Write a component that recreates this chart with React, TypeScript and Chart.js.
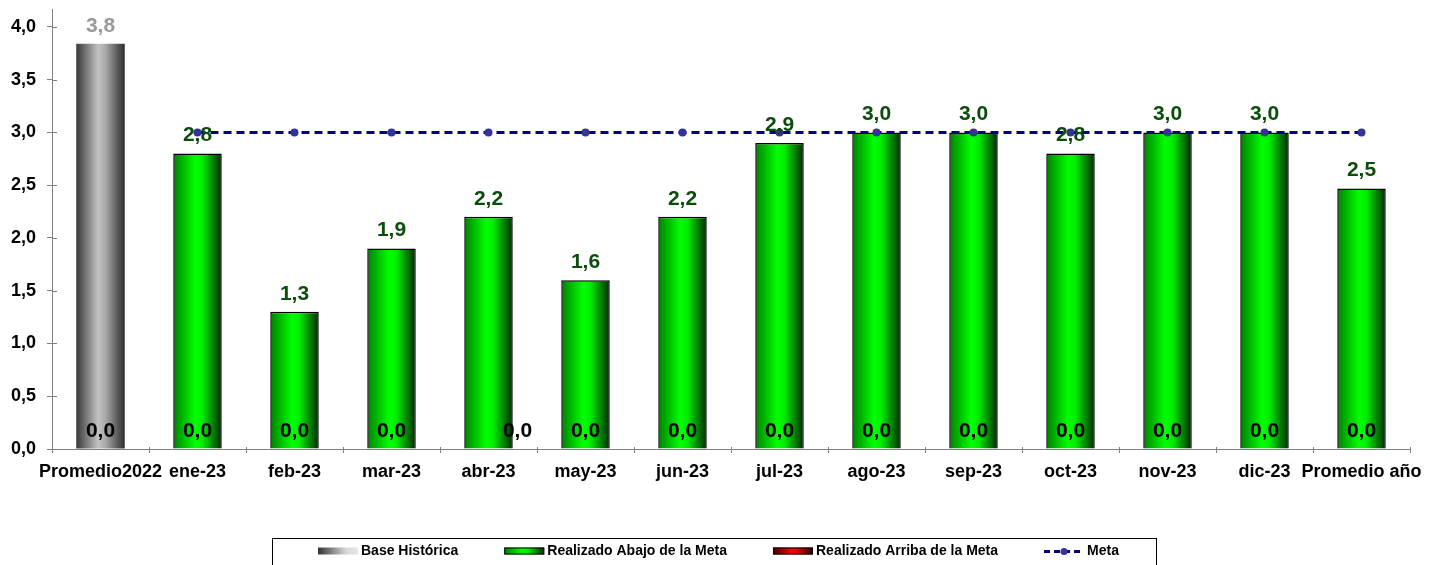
import React, { useEffect, useRef } from 'react';
import { Chart, registerables } from 'chart.js';

Chart.register(...registerables);

const categories = ['Promedio2022', 'ene-23', 'feb-23', 'mar-23', 'abr-23', 'may-23', 'jun-23', 'jul-23', 'ago-23', 'sep-23', 'oct-23', 'nov-23', 'dic-23', 'Promedio año'];
const baseHistorica = [3.84, null, null, null, null, null, null, null, null, null, null, null, null, null];
const realizadoAbajo = [null, 2.8, 1.3, 1.9, 2.2, 1.6, 2.2, 2.9, 3.0, 3.0, 2.8, 3.0, 3.0, 2.47];
const realizadoArriba = [0, 0, 0, 0, 0, 0, 0, 0, 0, 0, 0, 0, 0, 0];
const meta = [null, 3, 3, 3, 3, 3, 3, 3, 3, 3, 3, 3, 3, 3];
const yTicks = [0, 0.5, 1.0, 1.5, 2.0, 2.5, 3.0, 3.5, 4.0];
const yMax = 4.17;

const FONT = '"Liberation Sans", Arial, sans-serif';
const fmt = (v: number) => v.toFixed(1).replace('.', ',');

const gradStops: Record<string, [number, string][]> = {
  grey: [[0, '#383838'], [0.45, '#c2c2c2'], [0.6, '#aaaaaa'], [1, '#2c2c2c']],
  green: [[0, '#008000'], [0.45, '#00ff00'], [0.6, '#00ee00'], [1, '#002a00']],
  red: [[0, '#3a0000'], [0.45, '#ff0000'], [0.6, '#ee0000'], [1, '#2a0000']],
};

function barGradient(kind: string) {
  return (c: any) => {
    const chart = c.chart;
    const xs = chart.scales?.x;
    if (!xs || !chart.chartArea || c.dataIndex === undefined) return gradStops[kind][1][1];
    const center = xs.getPixelForValue(c.dataIndex);
    const half = (xs.width / categories.length) * 0.5 / 2;
    const g = chart.ctx.createLinearGradient(center - half, 0, center + half, 0);
    gradStops[kind].forEach(([o, col]) => g.addColorStop(o, col));
    return g;
  };
}

const labelColors = ['#999999', '#0b4d0b', '#000000'];

const valueLabels = {
  id: 'valueLabels',
  afterDatasetsDraw(chart: any) {
    const ctx = chart.ctx;
    ctx.save();
    ctx.font = `bold 21px ${FONT}`;
    ctx.textAlign = 'center';
    ctx.textBaseline = 'middle';
    chart.data.datasets.forEach((ds: any, di: number) => {
      if (ds.type === 'line') return;
      const m = chart.getDatasetMeta(di);
      m.data.forEach((el: any, i: number) => {
        const v = ds.data[i];
        if (v == null) return;
        const dx = di === 2 && i === 4 ? 29 : 0;
        ctx.fillStyle = labelColors[di];
        ctx.fillText(fmt(v), el.x + dx, el.y - 18);
      });
    });
    ctx.restore();
  },
};

const innerTicks = {
  id: 'innerTicks',
  afterDraw(chart: any) {
    const ctx = chart.ctx;
    const { left, bottom } = chart.chartArea;
    const ys = chart.scales.y;
    const xs = chart.scales.x;
    ctx.save();
    ctx.strokeStyle = '#808080';
    ctx.lineWidth = 1;
    ctx.beginPath();
    ys.ticks.forEach((t: any) => {
      const y = Math.round(ys.getPixelForValue(t.value)) + 0.5;
      ctx.moveTo(left, y);
      ctx.lineTo(left + 5, y);
    });
    const step = xs.width / categories.length;
    for (let i = 1; i <= categories.length; i++) {
      const x = Math.round(xs.left + step * i) + 0.5;
      ctx.moveTo(x, bottom);
      ctx.lineTo(x, bottom - 2);
    }
    ctx.stroke();
    ctx.restore();
  },
};

const customLegend = {
  id: 'customLegend',
  afterDraw(chart: any) {
    const ctx = chart.ctx;
    ctx.save();
    ctx.strokeStyle = '#000000';
    ctx.lineWidth = 1;
    ctx.strokeRect(272.5, 538.5, 884, 40);
    ctx.font = `bold 14px ${FONT}`;
    ctx.textBaseline = 'middle';
    ctx.textAlign = 'left';
    const cy = 551.5;
    let x = 318;
    chart.data.datasets.forEach((ds: any) => {
      if (ds.type === 'line') {
        ctx.strokeStyle = '#000080';
        ctx.lineWidth = 3;
        ctx.setLineDash([6, 4]);
        ctx.beginPath();
        ctx.moveTo(x, cy);
        ctx.lineTo(x + 40, cy);
        ctx.stroke();
        ctx.setLineDash([]);
        ctx.fillStyle = '#333399';
        ctx.beginPath();
        ctx.arc(x + 20, cy, 3.5, 0, Math.PI * 2);
        ctx.fill();
      } else {
        const kind = ds.legendKind;
        const g = ctx.createLinearGradient(x, 0, x + 40, 0);
        if (kind === 'grey') {
          g.addColorStop(0, '#333333');
          g.addColorStop(0.7, '#d8d8d8');
          g.addColorStop(1, '#e6e6e6');
        } else {
          gradStops[kind].forEach(([o, col]: [number, string]) => g.addColorStop(o, col));
        }
        ctx.fillStyle = g;
        ctx.fillRect(x, cy - 4, 40, 7);
        if (kind !== 'grey') {
          ctx.strokeStyle = '#000000';
          ctx.lineWidth = 1;
          ctx.strokeRect(x + 0.5, cy - 3.5, 39, 6);
        }
      }
      x += 43;
      ctx.fillStyle = '#000000';
      ctx.fillText(ds.label, x, cy);
      x += ctx.measureText(ds.label).width + 46;
    });
    ctx.restore();
  },
};

export default function App() {
  const ref = useRef<HTMLCanvasElement>(null);
  useEffect(() => {
    if (!ref.current) return;
    const chart = new Chart(ref.current, {
      type: 'bar',
      data: {
        labels: categories,
        datasets: [
          {
            type: 'bar',
            label: 'Base Histórica',
            legendKind: 'grey',
            data: baseHistorica,
            backgroundColor: barGradient('grey'),
            borderWidth: 0,
            grouped: false,
            order: 3,
          } as any,
          {
            type: 'bar',
            label: 'Realizado Abajo de la Meta',
            legendKind: 'green',
            data: realizadoAbajo,
            backgroundColor: barGradient('green'),
            borderColor: '#000000',
            borderWidth: 1.5,
            grouped: false,
            order: 2,
          } as any,
          {
            type: 'bar',
            label: 'Realizado Arriba de la Meta',
            legendKind: 'red',
            data: realizadoArriba,
            backgroundColor: barGradient('red'),
            borderWidth: 0,
            grouped: false,
            order: 1,
          } as any,
          {
            type: 'line',
            label: 'Meta',
            data: meta,
            borderColor: '#000080',
            borderWidth: 3,
            borderDash: [8, 5],
            pointRadius: 4,
            pointBackgroundColor: '#333399',
            pointBorderColor: '#333399',
            pointBorderWidth: 0,
            tension: 0,
            fill: false,
            order: 0,
          } as any,
        ],
      },
      options: {
        responsive: false,
        animation: false,
        devicePixelRatio: 1,
        layout: { padding: { top: 9, right: 27, left: 0, bottom: 0 } },
        datasets: { bar: { barPercentage: 0.5, categoryPercentage: 1 } },
        plugins: {
          legend: { display: false },
          tooltip: { enabled: false },
        },
        scales: {
          x: {
            grid: { offset: true, drawOnChartArea: false, drawTicks: true, tickLength: 4, color: '#808080' },
            border: { display: true, color: '#808080', width: 1 },
            ticks: {
              autoSkip: false,
              maxRotation: 0,
              minRotation: 0,
              color: '#000000',
              padding: 8,
              font: { family: FONT, size: 18, weight: 'bold' },
            },
            afterFit: (s: any) => {
              s.height = 116;
              s.paddingLeft = 0;
              s.paddingRight = 0;
            },
          },
          y: {
            min: 0,
            max: yMax,
            grid: { drawOnChartArea: false, drawTicks: true, tickLength: 5, color: '#808080' },
            border: { display: true, color: '#808080', width: 1 },
            afterBuildTicks: (s: any) => {
              s.ticks = yTicks.map((v) => ({ value: v }));
            },
            ticks: {
              color: '#000000',
              padding: 11,
              font: { family: FONT, size: 18, weight: 'bold' },
              callback: (v: any) => fmt(Number(v)),
            },
            afterFit: (s: any) => {
              s.width = 52;
              s.paddingTop = 0;
              s.paddingBottom = 0;
            },
          },
        },
      } as any,
      plugins: [valueLabels, innerTicks, customLegend],
    });
    return () => chart.destroy();
  }, []);
  return (
    <div style={{ position: 'fixed', left: 0, top: 0, width: 1437, height: 565, background: '#ffffff' }}>
      <canvas ref={ref} width={1437} height={565} style={{ display: 'block' }} />
    </div>
  );
}
